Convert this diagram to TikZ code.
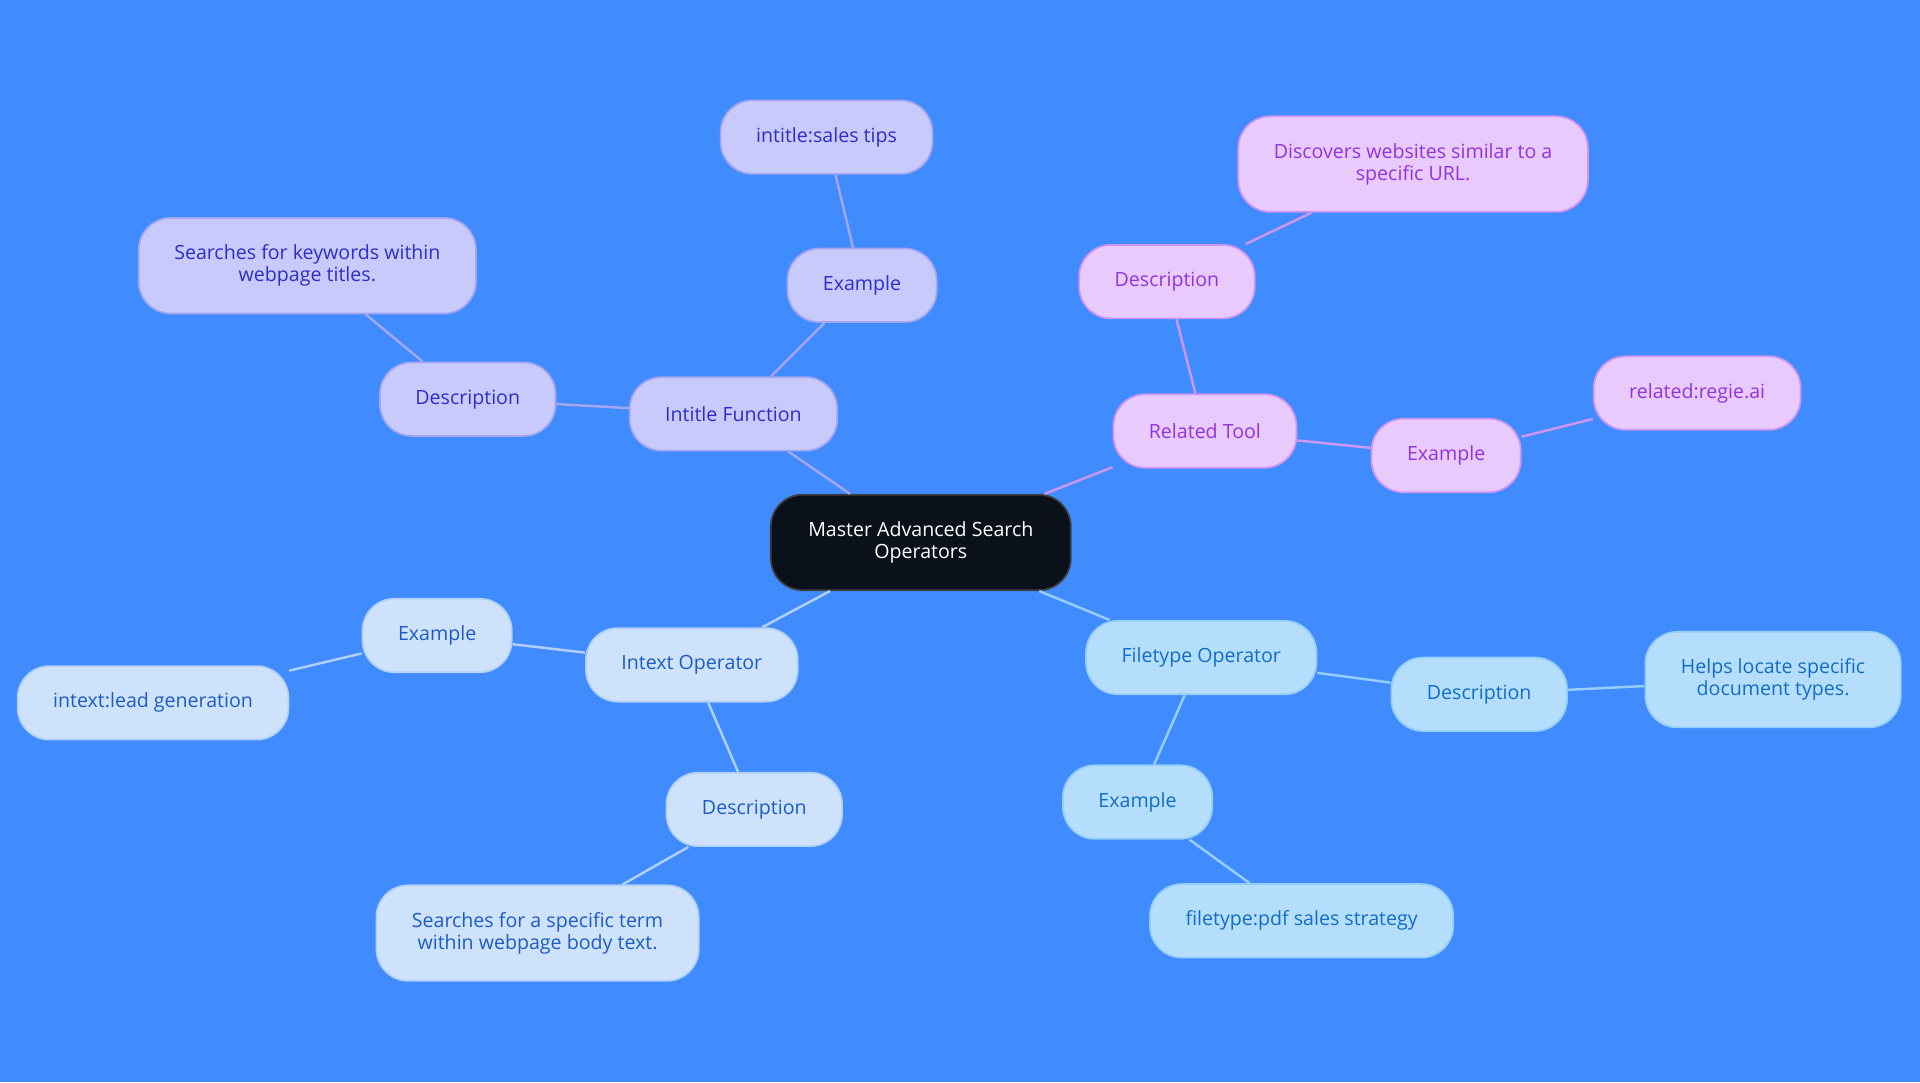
\documentclass[tikz,border=0pt]{standalone}
\usepackage{fontspec}
\setmainfont{Open Sans}
\usepackage{tikz}
\usepackage{xcolor}
\definecolor{bgblue}{RGB}{64, 140, 255}
\definecolor{rootfill}{RGB}{11, 17, 26}
\definecolor{tfill}{RGB}{200, 202, 252}
\definecolor{ttext}{RGB}{46, 46, 200}
\definecolor{tline}{RGB}{164, 166, 240}
\definecolor{rfill}{RGB}{232, 202, 252}
\definecolor{rtext}{RGB}{146, 52, 220}
\definecolor{rline}{RGB}{206, 150, 240}
\definecolor{ifill}{RGB}{206, 226, 252}
\definecolor{itext}{RGB}{28, 92, 196}
\definecolor{iline}{RGB}{176, 208, 250}
\definecolor{ffill}{RGB}{180, 222, 252}
\definecolor{ftext}{RGB}{18, 110, 196}
\definecolor{fline}{RGB}{150, 206, 250}
\begin{document}
\begin{tikzpicture}[x = 1pt, y = -1pt,
  box/.style = {rounded corners = 26pt, line width = 1.4pt, align = center,
    inner xsep = 29pt, minimum height = 60pt, font = \fontsize{16}{18}\selectfont},
  tbox/.style = {box, fill = tfill, draw = tline, text = ttext},
  rbox/.style = {box, fill = rfill, draw = rline, text = rtext},
  ibox/.style = {box, fill = ifill, draw = iline, text = itext},
  fbox/.style = {box, fill = ffill, draw = fline, text = ftext},
  tedge/.style = {line width = 2pt, tline},
  redge/.style = {line width = 2pt, rline},
  iedge/.style = {line width = 2pt, iline},
  fedge/.style = {line width = 2pt, fline}]
\fill[bgblue] (0,0) rectangle (1568,884);
\useasboundingbox (0,0) rectangle (1568,884);
% root
\node[box, fill = rootfill, draw = black!75, text = white, minimum width = 245pt, minimum height = 78pt] (root) at (752,443) {Master Advanced Search\\Operators};
% intitle
\node[tbox] (tfun) at (599,338) {Intitle Function};
\node[tbox] (tex) at (704,233) {Example};
\node[tbox] (texv) at (675,112) {intitle:sales tips};
\node[tbox] (tdesc) at (382,326) {Description};
\node[tbox, minimum height = 78pt] (tdescv) at (251,217) {Searches for keywords within\\webpage titles.};
% related
\node[rbox] (rtool) at (984,352) {Related Tool};
\node[rbox] (rdesc) at (953,230) {Description};
\node[rbox, minimum height = 78pt] (rdescv) at (1154,134) {Discovers websites similar to a\\specific URL.};
\node[rbox] (rex) at (1181,372) {Example};
\node[rbox] (rexv) at (1386,321) {related:regie.ai};
% intext
\node[ibox] (iop) at (565,543) {Intext Operator};
\node[ibox] (iex) at (357,519) {Example};
\node[ibox] (iexv) at (125,574) {intext:lead generation};
\node[ibox] (idesc) at (616,661) {Description};
\node[ibox, minimum height = 78pt] (idescv) at (439,762) {Searches for a specific term\\within webpage body text.};
% filetype
\node[fbox] (fop) at (981,537) {Filetype Operator};
\node[fbox] (fdesc) at (1208,567) {Description};
\node[fbox, minimum height = 78pt] (fdescv) at (1448,555) {Helps locate specific\\document types.};
\node[fbox] (fex) at (929,655) {Example};
\node[fbox] (fexv) at (1063,752) {filetype:pdf sales strategy};
% connectors
\draw[tedge] (root) -- (tfun);
\draw[tedge] (tfun) -- (tex);
\draw[tedge] (tex) -- (texv);
\draw[tedge] (tfun) -- (tdesc);
\draw[tedge] (tdesc) -- (tdescv);
\draw[redge] (root) -- (rtool);
\draw[redge] (rtool) -- (rdesc);
\draw[redge] (rdesc) -- (rdescv);
\draw[redge] (rtool) -- (rex);
\draw[redge] (rex) -- (rexv);
\draw[iedge] (root) -- (iop);
\draw[iedge] (iop) -- (iex);
\draw[iedge] (iex) -- (iexv);
\draw[iedge] (iop) -- (idesc);
\draw[iedge] (idesc) -- (idescv);
\draw[fedge] (root) -- (fop);
\draw[fedge] (fop) -- (fdesc);
\draw[fedge] (fdesc) -- (fdescv);
\draw[fedge] (fop) -- (fex);
\draw[fedge] (fex) -- (fexv);
\end{tikzpicture}
\end{document}
